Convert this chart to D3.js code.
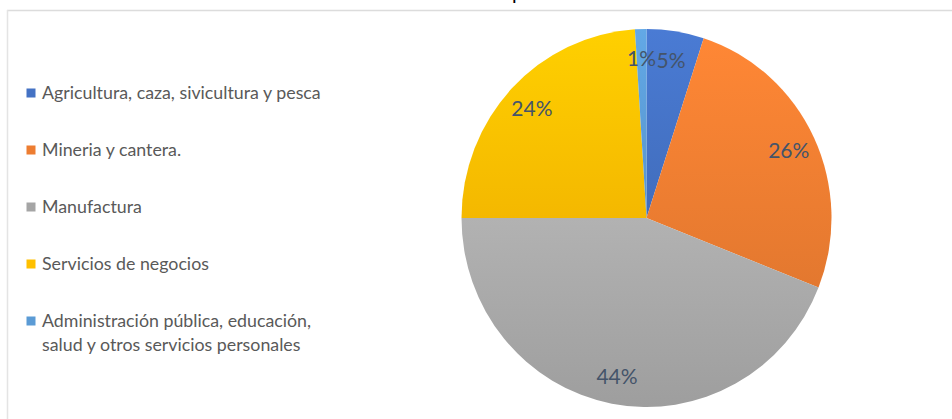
<!DOCTYPE html>
<html>
<head>
<meta charset="utf-8">
<script src="https://cdn.jsdelivr.net/npm/d3@7"></script>
<style>
  html, body { margin: 0; padding: 0; background: #fff; }
  svg { display: block; }
</style>
</head>
<body>
<svg id="chart" width="952" height="419"></svg>
<script>
// Sector shares (percent)
const categories = [
  "Agricultura, caza, sivicultura y pesca",
  "Mineria y cantera.",
  "Manufactura",
  "Servicios de negocios",
  "Administración pública, educación, salud y otros servicios personales"
];
const shares = [5, 26, 44, 24, 1];
// Legend text, wrapped the way it is drawn
const legendLines = [
  ["Agricultura, caza, sivicultura y pesca"],
  ["Mineria y cantera."],
  ["Manufactura"],
  ["Servicios de negocios"],
  ["Administración pública, educación,", "salud y otros servicios personales"]
];
const baseColors = ["#4472C4", "#ED7D31", "#A5A5A5", "#FFC000", "#5B9BD5"];
const titleText = "Composición del PIB";

const W = 952, H = 419;
const svg = d3.select("#chart");
const defs = svg.append("defs");

// Frame: light rules along the top and left edges
svg.append("line").attr("x1", 7).attr("x2", W).attr("y1", 10.5).attr("y2", 10.5)
  .attr("stroke", "#dcdcdc").attr("stroke-width", 1.5);
svg.append("line").attr("x1", 7.5).attr("x2", 7.5).attr("y1", 10).attr("y2", H)
  .attr("stroke", "#e4e4e4").attr("stroke-width", 1.5);

// Title sits above the visible area; only its descender peeks in
const title = svg.append("text")
  .attr("x", 0).attr("y", 0)
  .attr("font-family", "Lato, 'Open Sans', sans-serif")
  .attr("font-size", 20)
  .attr("fill", "#000")
  .text(titleText);
{
  const idx = titleText.indexOf("p");
  const pos = title.node().getStartPositionOfChar(idx).x;
  title.attr("x", 512 - pos);
}

// Pie geometry
const cx = 646.5, cy = 218, R = 185, ky = 189 / 185;

const pie = d3.pie().sort(null).value(d => d)
  .startAngle(0).endAngle(2 * Math.PI);
const arcs = pie(shares);
const arc = d3.arc().innerRadius(0).outerRadius(R);
const labelArc = d3.arc().innerRadius(R * 0.85).outerRadius(R * 0.85);

// Per-slice vertical gradients: lighter on top, deeper below
baseColors.forEach((c, i) => {
  const g = defs.append("linearGradient")
    .attr("id", "grad" + i)
    .attr("x1", 0).attr("y1", 0).attr("x2", 0).attr("y2", 1);
  const top = d3.color(c).brighter(0.22);
  const bot = d3.color(c).darker(0.12);
  g.append("stop").attr("offset", "0%").attr("stop-color", top);
  g.append("stop").attr("offset", "100%").attr("stop-color", bot);
});

const pieG = svg.append("g")
  .attr("transform", `translate(${cx},${cy}) scale(1,${ky})`);

pieG.selectAll("path.slice")
  .data(arcs)
  .join("path")
  .attr("class", "slice")
  .attr("d", arc)
  .attr("fill", (d, i) => `url(#grad${i})`);

// Percentage labels
const labelG = svg.append("g").attr("transform", `translate(${cx},${cy})`);
labelG.selectAll("text")
  .data(arcs)
  .join("text")
  .attr("x", d => labelArc.centroid(d)[0])
  .attr("y", d => labelArc.centroid(d)[1] * ky)
  .attr("dy", "0.4em")
  .attr("text-anchor", "middle")
  .attr("font-family", "Lato, 'Open Sans', sans-serif")
  .attr("font-size", 21)
  .attr("fill", "#44546A")
  .text(d => d3.format(".0%")(d.data / 100));

// Legend
const legendY = d3.scalePoint()
  .domain(d3.range(categories.length))
  .range([93, 321]);

const legend = svg.append("g");
const item = legend.selectAll("g")
  .data(categories)
  .join("g")
  .attr("transform", (d, i) => `translate(0,${legendY(i)})`);

item.append("rect")
  .attr("x", 26.5).attr("y", -4.5)
  .attr("width", 9).attr("height", 9)
  .attr("fill", (d, i) => baseColors[i]);

item.append("text")
  .attr("x", 42)
  .attr("font-family", "Lato, 'Open Sans', sans-serif")
  .attr("font-size", 17.8)
  .attr("fill", "#595959")
  .selectAll("tspan")
  .data((d, i) => legendLines[i])
  .join("tspan")
  .attr("x", 42)
  .attr("y", (t, j) => 6 + j * 24)
  .text(t => t);
</script>
</body>
</html>
